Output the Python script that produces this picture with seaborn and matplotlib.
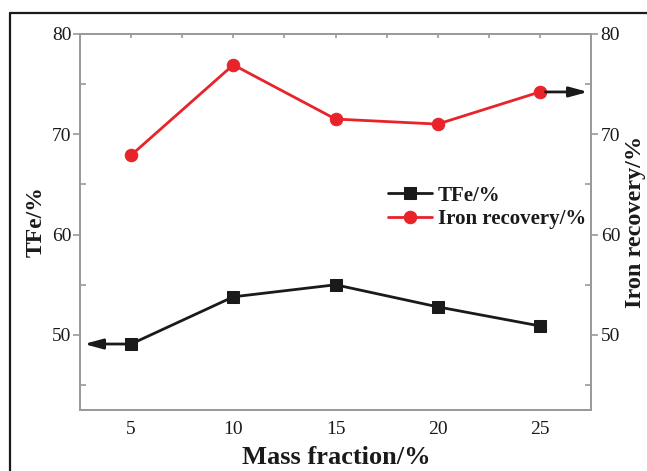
import matplotlib
matplotlib.use("Agg")
import matplotlib.pyplot as plt
import seaborn as sns
from matplotlib.lines import Line2D
from matplotlib.ticker import MultipleLocator

mass_fraction = [5, 10, 15, 20, 25]
tfe = [49.1, 53.8, 55.0, 52.8, 50.9]
iron_recovery = [67.9, 76.9, 71.5, 71.0, 74.2]
x_ticks = [5, 10, 15, 20, 25]
y_ticks = [50, 60, 70, 80]

sns.set_style("white")
plt.rcParams['font.family'] = ['Liberation Serif', 'DejaVu Serif']

BLACK = '#1a1a1a'
RED = '#e8232a'
GRAY = '#9a9a9a'

fig = plt.figure(figsize=(6.47, 4.71), dpi=100)
ax = fig.add_axes([80/647, 1-410.3/471, 511/647, (410.3-33.7)/471])
ax2 = ax.twinx()

sns.lineplot(x=mass_fraction, y=tfe, ax=ax, color=BLACK, marker='s', markersize=8.5,
             markeredgecolor=BLACK, linewidth=2, label='TFe/%', legend=False)
sns.lineplot(x=mass_fraction, y=iron_recovery, ax=ax2, color=RED, marker='o', markersize=9,
             markeredgecolor=RED, linewidth=2, label='Iron recovery/%', legend=False)

xlim = (2.5, 27.5)
ylim = (42.5, 80)
for a in (ax, ax2):
    a.set_xlim(*xlim)
    a.set_ylim(*ylim)
    a.set_yticks(y_ticks)
    a.yaxis.set_minor_locator(MultipleLocator(5))
    for s in a.spines.values():
        s.set_color(GRAY)
        s.set_linewidth(1.3)
ax.set_xticks(x_ticks)
ax.xaxis.set_minor_locator(MultipleLocator(2.5))

ax.tick_params(axis='both', which='major', direction='out', length=5, width=1.2, color=GRAY,
               labelsize=14, labelcolor=BLACK, pad=1)
ax.tick_params(axis='x', which='major', pad=3)
ax.tick_params(axis='both', which='minor', direction='in', length=4, width=1.2, color=GRAY)
ax2.tick_params(axis='y', which='major', direction='out', length=5, width=1.2, color=GRAY,
                labelsize=14, labelcolor=BLACK, pad=2)
ax2.tick_params(axis='y', which='minor', direction='in', length=4, width=1.2, color=GRAY)

# top axis: inward ticks, no labels
top = ax.secondary_xaxis('top')
top.set_xticks(x_ticks)
top.xaxis.set_minor_locator(MultipleLocator(2.5))
top.tick_params(which='both', direction='in', length=3, width=1.2, color=GRAY, labeltop=False)
top.spines['top'].set_color(GRAY)
top.spines['top'].set_linewidth(1.3)

ax.set_xlabel('Mass fraction/%', fontsize=19, fontweight='bold', color=BLACK)
ax.set_ylabel('TFe/%', fontsize=17, fontweight='bold', color=BLACK)
ax2.set_ylabel('Iron recovery/%', fontsize=17.5, fontweight='bold', color=BLACK)
ax.xaxis.set_label_coords(0.501, -0.095)
ax.yaxis.set_label_coords(-0.066, 0.5)
ax2.yaxis.set_label_coords(1.067, 0.5)

# arrows indicating which axis each series belongs to
arrow_kw = dict(arrowstyle='-|>,head_length=1.1,head_width=0.3', color=BLACK, lw=2,
                shrinkA=4, shrinkB=0)
ax.annotate('', xy=(xlim[0] + 0.2, tfe[0]), xytext=(mass_fraction[0], tfe[0]),
            arrowprops=arrow_kw)
ax2.annotate('', xy=(xlim[1] - 0.15, iron_recovery[-1]), xytext=(mass_fraction[-1], iron_recovery[-1]),
             arrowprops=arrow_kw)

handles = ax.get_lines()[:1] + ax2.get_lines()[:1]
leg = ax2.legend(handles=handles, labels=['TFe/%', 'Iron recovery/%'], loc='upper left',
                 bbox_to_anchor=(0.582, 0.624), frameon=False, handlelength=2.1,
                 handletextpad=0.3, labelspacing=0.15, borderpad=0,
                 prop={'weight': 'bold', 'size': 15})
for t in leg.get_texts():
    t.set_color(BLACK)

# outer frame
fig.add_artist(Line2D([10/647, 1], [1-13.3/471, 1-13.3/471], transform=fig.transFigure,
                      color=BLACK, lw=1.6))
fig.add_artist(Line2D([10/647, 10/647], [0, 1-13.3/471], transform=fig.transFigure,
                      color=BLACK, lw=1.6))

fig.savefig('out.png', dpi=100)
